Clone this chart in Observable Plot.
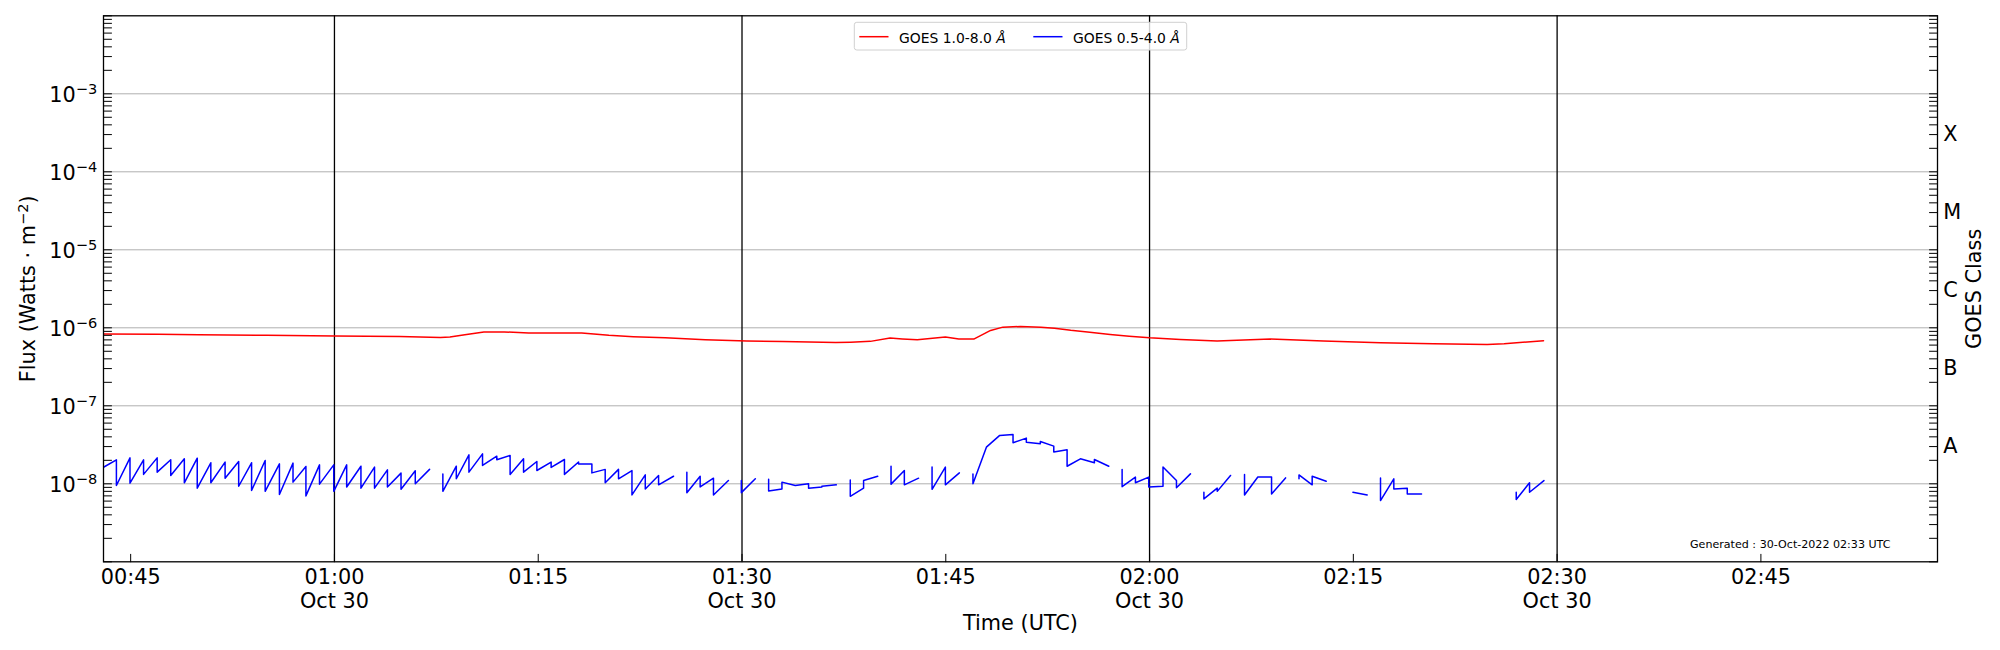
<!DOCTYPE html>
<html>
<head>
<meta charset="utf-8">
<script src="https://cdn.jsdelivr.net/npm/d3@7"></script>
<script src="https://cdn.jsdelivr.net/npm/@observablehq/plot@0.6"></script>
<style>
html, body { margin: 0; padding: 0; background: #fff; }
svg { display: block; }
</style>
</head>
<body>
<div id="chart"></div>
<script>
// ---------- data (minutes after 00:00 UTC, 30 Oct 2022; flux in W m^-2) ----------
const seriesNames = ["GOES 1.0-8.0", "GOES 0.5-4.0"];
const seriesUnit = "Å";
const seriesColors = ["#ff0000", "#0000ff"];

const redMinutes = [43.0, 47, 50, 55, 60, 64.8, 67.8, 68.5, 69.6, 71.0, 72.5, 74.3, 76, 78.2, 80.2, 82, 84.35, 87.3, 90.36, 93, 96.9, 98, 99.45, 100.9, 101.8, 102.9, 104.97, 105.96, 107.06, 108.3, 109.2, 110.5, 112, 113, 114.2, 115.6, 117.1, 118.5, 120, 122.27, 124.97, 128.9, 132.8, 137, 140.9, 144.85, 146.1, 149];
const redFlux = [8.35e-7, 8.25e-7, 8.15e-7, 8.0e-7, 7.84e-7, 7.76e-7, 7.53e-7, 7.6e-7, 8.15e-7, 8.82e-7, 8.85e-7, 8.6e-7, 8.55e-7, 8.57e-7, 8.0e-7, 7.7e-7, 7.45e-7, 7.03e-7, 6.76e-7, 6.65e-7, 6.5e-7, 6.55e-7, 6.7e-7, 7.38e-7, 7.2e-7, 7.03e-7, 7.6e-7, 7.17e-7, 7.17e-7, 9.26e-7, 1.02e-6, 1.04e-6, 1.02e-6, 9.9e-7, 9.3e-7, 8.8e-7, 8.23e-7, 7.8e-7, 7.45e-7, 7.1e-7, 6.76e-7, 7.17e-7, 6.76e-7, 6.43e-7, 6.24e-7, 6.12e-7, 6.24e-7, 6.82e-7];

// null flux = data gap
const blueMinutes = [43.0, 43.95, 43.95, 44.95, 44.95, 45.95, 45.95, 46.95, 46.95, 47.95, 47.95, 48.95, 48.95, 49.9, 49.9, 50.9, 50.9, 51.95, 51.95, 52.95, 52.95, 53.9, 53.9, 54.9, 54.9, 55.95, 55.95, 56.95, 56.95, 57.9, 57.9, 58.9, 58.9, 59.95, 59.95, 60.9, 60.9, 61.95, 61.95, 62.95, 62.95, 63.9, 63.9, 64.9, 64.9, 65.95, 65.95, 67.0, 67.5,
  67.98, 67.98, 68.97, 68.97, 69.9, 69.9, 70.9, 70.9, 71.95, 71.95, 72.93, 72.93, 73.92, 73.92, 74.9, 74.9, 75.95, 75.95, 76.93, 76.93, 77.97, 77.97, 78.95, 78.95, 79.93, 79.93, 80.91, 80.91, 81.9, 81.9, 82.88, 82.88, 83.86, 83.86, 84.96, 85.4,
  85.94, 85.94, 86.92, 86.92, 87.9, 87.9, 89.0, 89.5,
  89.95, 89.95, 90.98, 91.5,
  91.96, 91.96, 92.94, 92.94, 93.92, 94.9, 94.9, 95.88, 95.88, 96.94, 97.4,
  97.97, 97.97, 98.95, 98.95, 99.99, 100.5,
  100.97, 100.97, 101.95, 101.95, 103.0, 103.5,
  103.99, 103.99, 104.97, 104.97, 106.0, 106.5,
  107.0, 107.0, 107.99, 108.97, 109.95, 109.95, 110.93, 110.93, 111.96, 111.96, 112.95, 112.95, 113.93, 113.93, 114.91, 115.94, 115.94, 117.0, 117.5,
  117.98, 117.98, 118.96, 118.96, 119.94, 119.94, 120.99, 120.99, 121.98, 121.98, 123.01, 123.5,
  124.0, 124.0, 124.98, 124.98, 125.96, 126.5,
  126.99, 126.99, 127.97, 128.98, 128.98, 130.01, 130.5,
  131.0, 131.0, 131.97, 131.97, 133.0, 134.0,
  134.97, 136.02, 136.5,
  137.0, 137.0, 137.98, 137.98, 138.97, 138.97, 140.02, 143,
  146.99, 146.99, 147.97, 147.97, 149.03];
const blueFlux = [1.63e-8, 2.03e-8, 9.5e-9, 2.15e-8, 1.02e-8, 2.03e-8, 1.32e-8, 2.15e-8, 1.41e-8, 2.03e-8, 1.28e-8, 2.09e-8, 1.03e-8, 2.13e-8, 8.8e-9, 1.86e-8, 1.03e-8, 1.90e-8, 1.18e-8, 1.93e-8, 9.3e-9, 1.86e-8, 8.2e-9, 1.99e-8, 8.0e-9, 1.80e-8, 7.3e-9, 1.84e-8, 1.05e-8, 1.67e-8, 7.0e-9, 1.75e-8, 9.9e-9, 1.75e-8, 8.0e-9, 1.75e-8, 9.1e-9, 1.68e-8, 8.8e-9, 1.64e-8, 8.8e-9, 1.51e-8, 9.1e-9, 1.37e-8, 8.5e-9, 1.47e-8, 1.0e-8, 1.53e-8, null,
  1.34e-8, 8.0e-9, 1.68e-8, 1.16e-8, 2.35e-8, 1.41e-8, 2.42e-8, 1.72e-8, 2.26e-8, 2.03e-8, 2.31e-8, 1.32e-8, 2.09e-8, 1.41e-8, 1.93e-8, 1.48e-8, 1.90e-8, 1.62e-8, 2.05e-8, 1.32e-8, 1.90e-8, 1.80e-8, 1.80e-8, 1.38e-8, 1.53e-8, 1.03e-8, 1.53e-8, 1.16e-8, 1.48e-8, 7.2e-9, 1.30e-8, 8.6e-9, 1.28e-8, 9.7e-9, 1.25e-8, null,
  1.41e-8, 7.7e-9, 1.25e-8, 9.1e-9, 1.18e-8, 7.2e-9, 1.10e-8, null,
  1.10e-8, 7.7e-9, 1.16e-8, null,
  1.14e-8, 8.1e-9, 8.6e-9, 1.05e-8, 9.5e-9, 1.0e-8, 8.8e-9, 9.1e-9, 9.3e-9, 9.7e-9, null,
  1.12e-8, 6.9e-9, 8.8e-9, 1.10e-8, 1.25e-8, null,
  1.68e-8, 9.9e-9, 1.48e-8, 9.7e-9, 1.18e-8, null,
  1.64e-8, 8.5e-9, 1.64e-8, 9.7e-9, 1.38e-8, null,
  1.34e-8, 1.0e-8, 2.95e-8, 4.17e-8, 4.29e-8, 3.36e-8, 3.85e-8, 3.42e-8, 3.26e-8, 3.49e-8, 3.04e-8, 2.55e-8, 2.73e-8, 1.68e-8, 2.09e-8, 1.86e-8, 2.05e-8, 1.68e-8, null,
  1.53e-8, 9.2e-9, 1.22e-8, 1.03e-8, 1.22e-8, 9.1e-9, 9.3e-9, 1.64e-8, 1.10e-8, 8.9e-9, 1.34e-8, null,
  7.8e-9, 6.4e-9, 8.8e-9, 8.0e-9, 1.28e-8, null,
  1.32e-8, 7.2e-9, 1.22e-8, 1.22e-8, 7.4e-9, 1.19e-8, null,
  1.16e-8, 1.30e-8, 9.7e-9, 1.25e-8, 1.08e-8, null,
  7.8e-9, 7.2e-9, null,
  1.19e-8, 6.1e-9, 1.16e-8, 8.6e-9, 8.8e-9, 7.4e-9, 7.4e-9, null,
  7.8e-9, 6.3e-9, 1.03e-8, 7.8e-9, 1.10e-8];

// ---------- axes / annotation values ----------
const xDomainMinutes = [43, 178];
const yDomain = [1e-9, 1e-2];
const gridDecades = [1e-8, 1e-7, 1e-6, 1e-5, 1e-4, 1e-3];
const yTickDecades = [1e-8, 1e-7, 1e-6, 1e-5, 1e-4, 1e-3];
const classLabels = ["A", "B", "C", "M", "X"];
const classFlux = [3e-8, 3e-7, 3e-6, 3e-5, 3e-4];
const xTickMinutes = [45, 60, 75, 90, 105, 120, 135, 150, 165];
const dayLineMinutes = [60, 90, 120, 150];
const dateLabel = "Oct 30";
const yLabel = "Flux (Watts · m^{−2})";
const y2Label = "GOES Class";
const xLabel = "Time (UTC)";
const generatedText = "Generated : 30-Oct-2022 02:33 UTC";

// ---------- build ----------
const DAY = Date.UTC(2022, 9, 30);
const T = m => new Date(DAY + m * 60000);
const red = redMinutes.map((m, i) => ({t: T(m), v: redFlux[i]}));
const blue = blueMinutes.map((m, i) => ({t: T(m), v: blueFlux[i]}));

const minorTicks = [];
for (let e = -9; e < -2; e++) for (let k = 1; k <= 9; k++) minorTicks.push(k * Math.pow(10, e));
minorTicks.push(1e-2);

const tickShape = {draw(c, l) { c.moveTo(0, 0); c.lineTo(0, -l); }};
const pad2 = n => String(n).padStart(2, "0");
const fmtX = d => {
  const s = pad2(d.getUTCHours()) + ":" + pad2(d.getUTCMinutes());
  return d.getUTCMinutes() % 30 === 0 ? s + "\n" + dateLabel : s;
};

const plot = Plot.plot({
  width: 2000,
  height: 650,
  marginLeft: 103,
  marginRight: 63,
  marginTop: 15.3,
  marginBottom: 88.7,
  style: {fontFamily: "'DejaVu Sans', sans-serif", fontSize: "20.8px", background: "#fff", color: "#000", overflow: "visible"},
  x: {type: "utc", domain: xDomainMinutes.map(T)},
  y: {type: "log", domain: yDomain},
  marks: [
    Plot.ruleY(gridDecades, {stroke: "#b0b0b0", strokeWidth: 1}),
    Plot.ruleX(dayLineMinutes.map(T), {stroke: "#000", strokeWidth: 1.3, ariaLabel: "day-lines"}),
    Plot.line(red, {x: "t", y: "v", stroke: seriesColors[0], strokeWidth: 1.5, clip: true}),
    Plot.line(blue, {x: "t", y: "v", stroke: seriesColors[1], strokeWidth: 1.5, clip: true}),
    Plot.frame({stroke: "#000", strokeWidth: 1.3}),
    Plot.vector(minorTicks, {y: d => d, frameAnchor: "left", rotate: 90, length: 8, anchor: "start", shape: tickShape, stroke: "#000", strokeWidth: 1}),
    Plot.vector(minorTicks, {y: d => d, frameAnchor: "right", rotate: -90, length: 8, anchor: "start", shape: tickShape, stroke: "#000", strokeWidth: 1}),
    Plot.vector(xTickMinutes.map(T), {x: d => d, frameAnchor: "bottom", rotate: 0, length: 7.5, anchor: "start", shape: tickShape, stroke: "#000", strokeWidth: 1}),
    Plot.axisY({ticks: yTickDecades, tickFormat: d => `10^{−${-Math.round(Math.log10(d))}}`, tickSize: 0, tickPadding: 6.3, label: null, dy: 1.5}),
    Plot.axisX({ticks: xTickMinutes.map(T), tickFormat: fmtX, tickSize: 0, tickPadding: 5.7, label: null, lineHeight: 1.14}),
    Plot.text(classLabels, {y: (d, i) => classFlux[i], text: d => d, frameAnchor: "right", dx: 5.7, textAnchor: "start", lineAnchor: "middle"}),
    Plot.text([yLabel], {text: d => d, frameAnchor: "left", dx: -74.7, rotate: -90, textAnchor: "middle", lineAnchor: "middle"}),
    Plot.text([y2Label], {text: d => d, frameAnchor: "right", dx: 36.9, rotate: -90, textAnchor: "middle", lineAnchor: "middle"}),
    Plot.text([xLabel], {text: d => d, frameAnchor: "bottom", dy: 62, textAnchor: "middle", lineAnchor: "middle"}),
    Plot.text([generatedText], {text: d => d, frameAnchor: "bottom-right", dx: -47, dy: -17.6, fontSize: 11.1, textAnchor: "end", lineAnchor: "middle"})
  ]
});

// superscripts ("^{...}") → tspans
const NS = "http://www.w3.org/2000/svg";
plot.querySelectorAll("text").forEach(el => {
  const s = el.textContent;
  if (!s.includes("^{")) return;
  const parts = s.split(/\^\{([^}]*)\}/);
  while (el.firstChild) el.removeChild(el.firstChild);
  parts.forEach((p, i) => {
    if (!p) return;
    const ts = document.createElementNS(NS, "tspan");
    ts.textContent = p;
    if (i % 2 === 1) { ts.setAttribute("font-size", "70%"); ts.setAttribute("dy", "-0.54em"); }
    else if (i > 0) { ts.setAttribute("dy", "0.378em"); }
    el.appendChild(ts);
  });
});

// legend (drawn beneath the vertical day lines, as in the reference)
const svg = d3.select(plot);
const lg = svg.append("g").attr("font-size", "13.9px").attr("font-family", "'DejaVu Sans', sans-serif").attr("text-anchor", "start");
lg.append("rect").attr("x", 854.3).attr("y", 22.3).attr("width", 332.4).attr("height", 27.7)
  .attr("rx", 2.5).attr("fill", "#fff").attr("fill-opacity", 0.8).attr("stroke", "#d0d0d0").attr("stroke-width", 1);
seriesNames.forEach((name, i) => {
  const x0 = 859.3 + i * 174;
  lg.append("line").attr("x1", x0).attr("x2", x0 + 29.2).attr("y1", 36.7).attr("y2", 36.7)
    .attr("stroke", seriesColors[i]).attr("stroke-width", 1.5);
  const t = lg.append("text").attr("x", x0 + 39.7).attr("y", 42.7).attr("fill", "#000").attr("text-anchor", "start");
  t.append("tspan").text(name + " ");
  t.append("tspan").attr("font-style", "italic").text(seriesUnit);
});
const dayLines = plot.querySelector('[aria-label="day-lines"]');
if (dayLines) plot.insertBefore(lg.node(), dayLines);

document.getElementById("chart").appendChild(plot);
</script>
</body>
</html>
